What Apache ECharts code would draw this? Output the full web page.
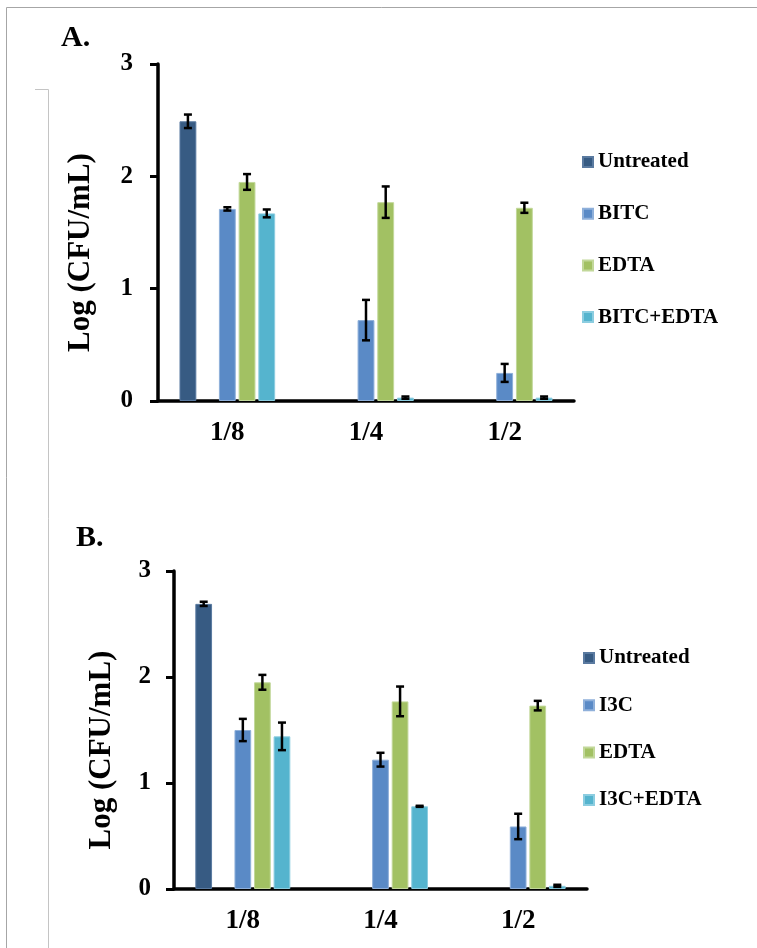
<!DOCTYPE html>
<html>
<head>
<meta charset="utf-8">
<script src="https://cdn.jsdelivr.net/npm/echarts@6/dist/echarts.min.js"></script>
<style>
html,body{margin:0;padding:0;background:#fff;}
#chart{width:757px;height:948px;}
</style>
</head>
<body>
<div id="chart"></div>
<script>
// ---- data ----
const categories = ['1/8', '1/4', '1/2'];
const yTicks = [0, 1, 2, 3];

const aUntreated = [2.49, null, null];
const aUntreatedErr = [0.06, null, null];
const aBITC = [1.71, 0.72, 0.25];
const aBITCErr = [0.015, 0.18, 0.08];
const aEDTA = [1.95, 1.77, 1.72];
const aEDTAErr = [0.07, 0.14, 0.045];
const aCombo = [1.67, 0.03, 0.03];
const aComboErr = [0.035, 0.01, 0.01];

const bUntreated = [2.69, null, null];
const bUntreatedErr = [0.02, null, null];
const bI3C = [1.50, 1.22, 0.59];
const bI3CErr = [0.105, 0.065, 0.12];
const bEDTA = [1.95, 1.77, 1.73];
const bEDTAErr = [0.07, 0.14, 0.045];
const bCombo = [1.44, 0.78, 0.03];
const bComboErr = [0.13, 0.005, 0.01];

const legendA = ['Untreated', 'BITC', 'EDTA', 'BITC+EDTA'];
const legendB = ['Untreated', 'I3C', 'EDTA', 'I3C+EDTA'];

// ---- styling ----
const FONT = "'Liberation Serif', 'Times New Roman', serif";
const colors = ['#375B83', '#5A8AC6', '#A2C163', '#55B4CE'];
const borders = ['#5a7aa0', '#8fb0da', '#c2d89a', '#8ccde0'];
const CAT_GAP = 0.31, BAR_GAP = 0.17, NSLOT = 5;

const chart = echarts.init(document.getElementById('chart'));

function barSeries(name, data, slotColorIdx, axisIdx) {
  return {
    type: 'bar', name: name, data: data,
    xAxisIndex: axisIdx, yAxisIndex: axisIdx,
    barCategoryGap: (CAT_GAP * 100) + '%', barGap: (BAR_GAP * 100) + '%',
    itemStyle: slotColorIdx == null ? {color: 'transparent'} :
      {color: colors[slotColorIdx], borderColor: borders[slotColorIdx], borderWidth: 1},
    silent: true
  };
}

function errSeries(vals, errs, slot, axisIdx) {
  const d = [];
  vals.forEach((v, i) => { if (v != null && errs[i] != null) d.push([i, v, errs[i]]); });
  return {
    type: 'custom', xAxisIndex: axisIdx, yAxisIndex: axisIdx, z: 10, silent: true,
    encode: {x: 0, y: 1},
    data: d,
    renderItem: function (params, api) {
      const ci = api.value(0), v = api.value(1), e = api.value(2);
      const band = api.size([1, 0])[0];
      const bw = band * (1 - CAT_GAP) / (NSLOT + (NSLOT - 1) * BAR_GAP);
      const off = (slot - (NSLOT - 1) / 2) * bw * (1 + BAR_GAP);
      const hi = api.coord([ci, v + e]);
      const lo = api.coord([ci, Math.max(0, v - e)]);
      const x = hi[0] + off;
      const cw = 4;
      const st = {stroke: '#000', lineWidth: 2.5};
      return {
        type: 'group', children: [
          {type: 'line', shape: {x1: x, y1: hi[1], x2: x, y2: lo[1]}, style: st},
          {type: 'line', shape: {x1: x - cw, y1: hi[1], x2: x + cw, y2: hi[1]}, style: st},
          {type: 'line', shape: {x1: x - cw, y1: lo[1], x2: x + cw, y2: lo[1]}, style: st}
        ]
      };
    }
  };
}

function xAxisCfg(gi) {
  return {
    type: 'category', gridIndex: gi, data: categories,
    axisLine: {show: true, lineStyle: {color: '#000', width: 3.5}},
    axisTick: {show: false},
    axisLabel: {color: '#000', fontFamily: FONT, fontWeight: 'bold', fontSize: 27, margin: 19}
  };
}
function yAxisCfg(gi, nameGap, margin) {
  return {
    type: 'value', gridIndex: gi, min: yTicks[0], max: yTicks[yTicks.length - 1], interval: 1,
    axisLine: {show: true, lineStyle: {color: '#000', width: 3.5}},
    axisTick: {show: true, length: 8, lineStyle: {color: '#000', width: 3}},
    splitLine: {show: false},
    axisLabel: {color: '#000', fontFamily: FONT, fontWeight: 'bold', fontSize: 25, margin: margin},
    name: 'Log (CFU/mL)', nameLocation: 'middle', nameGap: nameGap,
    nameTextStyle: {color: '#000', fontFamily: FONT, fontWeight: 'bold', fontSize: 31, padding: [0, 40, 0, 0]}
  };
}

function legendCfg(names, left, top, gap) {
  return {
    data: names, orient: 'vertical', left: left, top: top, padding: 0,
    itemWidth: 10, itemHeight: 10, itemGap: gap, icon: 'rect',
    selectedMode: false,
    textStyle: {color: '#000', fontFamily: FONT, fontWeight: 'bold', fontSize: 21, lineHeight: 21}
  };
}

const option = {
  animation: false,
  backgroundColor: '#fff',
  title: [
    {text: 'A.', left: 61, top: 23, padding: 0, textStyle: {fontFamily: FONT, fontWeight: 'bold', fontSize: 30, color: '#000'}},
    {text: 'B.', left: 76, top: 523, padding: 0, textStyle: {fontFamily: FONT, fontWeight: 'bold', fontSize: 30, color: '#000'}}
  ],
  graphic: [
    {type: 'polyline', shape: {points: [[6.5, 948], [6.5, 7.5], [757, 7.5]]}, style: {stroke: '#a6a6a6', lineWidth: 1, fill: null}, silent: true},
    {type: 'polyline', shape: {points: [[35, 89.5], [48.5, 89.5], [48.5, 948]]}, style: {stroke: '#c4c4c4', lineWidth: 1, fill: null}, silent: true}
  ],
  legend: [
    legendCfg(legendA, 582, 151.5, 30.7),
    legendCfg(legendB, 583, 647.5, 26.3)
  ],
  grid: [
    {left: 158, right: 183, top: 64, bottom: 547},
    {left: 174, right: 170, top: 571, bottom: 59}
  ],
  xAxis: [xAxisCfg(0), xAxisCfg(1)],
  yAxis: [yAxisCfg(0, 62, 25), yAxisCfg(1, 57, 23)],
  series: [
    barSeries('Untreated', aUntreated, 0, 0),
    barSeries('_blankA', [null, null, null], null, 0),
    barSeries('BITC', aBITC, 1, 0),
    barSeries('EDTA', aEDTA, 2, 0),
    barSeries('BITC+EDTA', aCombo, 3, 0),
    errSeries(aUntreated, aUntreatedErr, 0, 0),
    errSeries(aBITC, aBITCErr, 2, 0),
    errSeries(aEDTA, aEDTAErr, 3, 0),
    errSeries(aCombo, aComboErr, 4, 0),

    barSeries('Untreated', bUntreated, 0, 1),
    barSeries('_blankB', [null, null, null], null, 1),
    barSeries('I3C', bI3C, 1, 1),
    barSeries('EDTA', bEDTA, 2, 1),
    barSeries('I3C+EDTA', bCombo, 3, 1),
    errSeries(bUntreated, bUntreatedErr, 0, 1),
    errSeries(bI3C, bI3CErr, 2, 1),
    errSeries(bEDTA, bEDTAErr, 3, 1),
    errSeries(bCombo, bComboErr, 4, 1)
  ]
};
chart.setOption(option);
</script>
</body>
</html>
